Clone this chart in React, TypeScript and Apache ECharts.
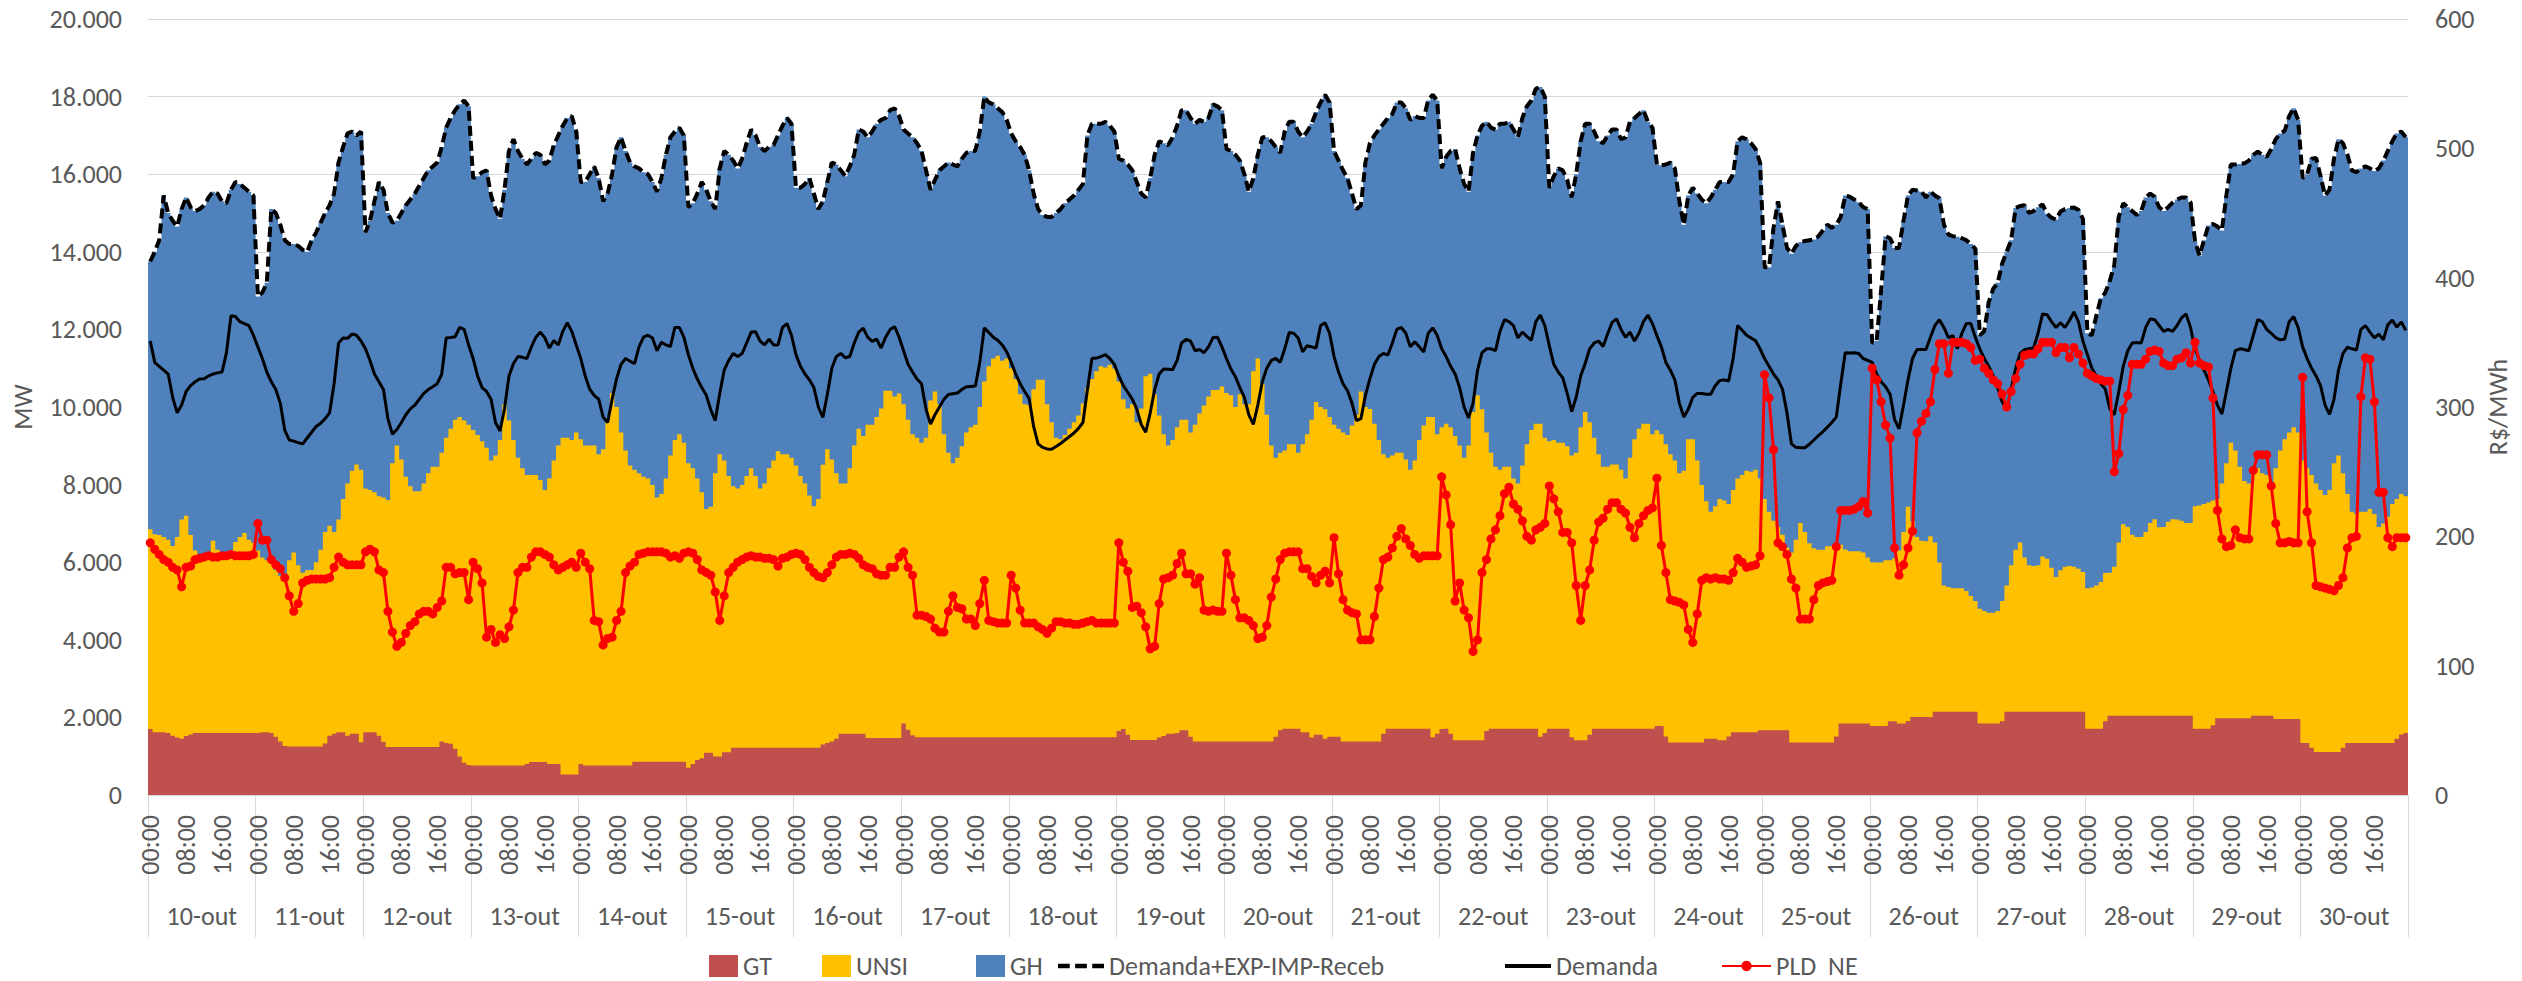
import React, { useEffect, useRef } from "react";
import * as echarts from "echarts";

const days = ["10-out","11-out","12-out","13-out","14-out","15-out","16-out","17-out","18-out","19-out","20-out","21-out","22-out","23-out","24-out","25-out","26-out","27-out","28-out","29-out","30-out"];
const hourLabels = ["00:00","01:00","02:00","03:00","04:00","05:00","06:00","07:00","08:00","09:00","10:00","11:00","12:00","13:00","14:00","15:00","16:00","17:00","18:00","19:00","20:00","21:00","22:00","23:00"];
const mwTicks = [0, 2000, 4000, 6000, 8000, 10000, 12000, 14000, 16000, 18000, 20000];
const pldTicks = [0, 100, 200, 300, 400, 500, 600];

// GT (MW), one row per day, hourly
const GT = [
[1700,1620,1620,1620,1600,1530,1480,1450,1520,1560,1600,1600,1600,1600,1600,1600,1600,1600,1600,1600,1600,1600,1600,1600],
[1600,1620,1620,1600,1500,1380,1260,1250,1250,1250,1250,1250,1250,1250,1250,1330,1530,1580,1620,1620,1530,1580,1580,1360],
[1620,1620,1620,1530,1370,1240,1240,1240,1240,1240,1240,1240,1240,1240,1240,1240,1240,1380,1340,1320,1190,990,830,770],
[760,760,760,760,760,760,760,760,760,760,760,760,800,850,850,850,850,800,800,800,530,530,530,530],
[800,760,760,760,760,760,760,760,760,760,760,760,855,855,855,855,855,855,855,855,855,855,855,855],
[700,800,900,950,1090,1090,990,990,1100,1100,1220,1220,1220,1220,1220,1220,1220,1220,1220,1220,1220,1220,1220,1220],
[1220,1220,1220,1220,1220,1220,1300,1340,1380,1450,1580,1580,1580,1580,1580,1580,1470,1470,1470,1470,1470,1470,1470,1470],
[1840,1680,1540,1490,1490,1490,1490,1490,1490,1490,1490,1490,1490,1490,1490,1490,1490,1490,1490,1490,1490,1490,1490,1490],
[1490,1490,1490,1490,1490,1490,1490,1490,1490,1490,1490,1490,1490,1490,1490,1490,1490,1490,1490,1490,1490,1490,1490,1490],
[1650,1700,1550,1420,1420,1420,1420,1420,1420,1480,1520,1580,1580,1600,1670,1670,1500,1380,1380,1380,1380,1380,1380,1380],
[1380,1380,1380,1380,1380,1380,1380,1380,1380,1380,1380,1500,1670,1710,1710,1710,1710,1620,1620,1480,1550,1550,1450,1500],
[1500,1500,1380,1380,1380,1380,1380,1380,1380,1380,1380,1580,1710,1710,1710,1710,1710,1710,1710,1710,1710,1710,1490,1580],
[1700,1710,1580,1410,1410,1410,1410,1410,1410,1410,1650,1710,1710,1710,1710,1710,1710,1710,1710,1710,1710,1710,1500,1600],
[1710,1710,1710,1710,1710,1490,1410,1410,1410,1550,1710,1710,1710,1710,1710,1710,1710,1710,1710,1710,1710,1710,1710,1710],
[1780,1780,1510,1355,1355,1355,1355,1355,1355,1355,1355,1450,1450,1450,1410,1410,1510,1620,1620,1620,1620,1620,1620,1670],
[1670,1670,1670,1670,1670,1670,1355,1355,1355,1355,1355,1355,1355,1355,1355,1355,1510,1840,1840,1840,1840,1840,1840,1840],
[1780,1780,1780,1780,1900,1900,1840,1840,1910,2010,2010,2010,2010,2010,2145,2145,2145,2145,2145,2145,2145,2145,2145,2145],
[1840,1840,1840,1840,1840,1900,2145,2145,2145,2145,2145,2145,2145,2145,2145,2145,2145,2145,2145,2145,2145,2145,2145,2145],
[1710,1710,1710,1710,1900,2040,2040,2040,2040,2040,2040,2040,2040,2040,2040,2040,2040,2040,2040,2040,2040,2040,2040,2040],
[1710,1710,1710,1710,1800,1980,1980,1980,1980,1980,1980,1980,1980,2040,2040,2040,2040,2040,1960,1960,1960,1960,1960,1960],
[1340,1340,1220,1110,1110,1110,1110,1110,1110,1220,1340,1340,1340,1340,1340,1340,1340,1340,1340,1340,1340,1450,1560,1600]
];

// Top of the UNSI band (GT + UNSI), MW
const UNSI_TOP = [
[6850,6720,6700,6650,6580,6420,6650,7100,7200,6700,6300,6200,6150,6200,6550,6320,6250,6250,6300,6520,6650,6750,6580,6500],
[6300,6120,6050,6000,5800,5650,5600,6050,6250,5920,5730,5790,5800,6000,6320,6780,6940,6780,7100,7630,8030,8360,8520,8380],
[7900,7860,7800,7700,7670,7600,8550,9010,8650,8200,7960,7830,7830,8030,8290,8460,8460,8820,9210,9440,9670,9740,9650,9540],
[9410,9280,9120,8950,8620,8750,9150,10070,9650,9150,8690,8420,8250,8250,8250,8120,7860,8160,8620,9010,9210,9210,9150,9340],
[9170,9010,9010,9010,8780,8910,9670,10360,10000,9340,8880,8490,8380,8290,8200,8160,7990,7670,7760,8160,8750,9150,9300,9080],
[8550,8420,8160,7800,7370,7430,8290,8780,8620,8220,7960,7900,7990,8220,8420,8220,7900,8030,8420,8620,8860,8780,8780,8690],
[8490,8220,8030,7720,7440,7630,8510,8910,8650,8290,8030,8030,8420,9010,9440,9250,9540,9540,9740,9960,10420,10420,10270,10350],
[10070,9670,9300,9210,9080,9210,10170,10400,10070,9300,8820,8550,8690,8990,9340,9480,9540,10000,10660,11050,11250,11320,11190,11250],
[11000,10720,10330,10070,10050,10460,10700,10700,10070,9610,9210,9170,9280,9440,9610,9780,10090,10490,10720,10920,11050,11020,11090,10990],
[10660,10200,9960,10070,9610,9960,10790,10860,10330,9780,9300,9010,9150,9480,9670,9670,9340,9540,9830,10040,10270,10440,10440,10530],
[10360,10300,10000,10330,10070,10070,10920,11250,10590,9800,9010,8690,8820,8880,9040,9040,8820,9040,9300,9670,10130,10000,9940,9740],
[9540,9440,9340,9280,9520,9800,10400,10000,9950,9570,9150,8780,8690,8750,8820,8820,8650,8380,8620,9150,9520,9740,9740,9300],
[9480,9570,9480,9250,9010,8690,9010,9870,10300,9940,9340,8820,8460,8380,8460,8460,8160,8030,8490,9040,9410,9570,9570,9210],
[9120,9150,9080,9080,8990,8750,8820,9480,9870,9610,9210,8780,8460,8460,8520,8520,8380,8160,8690,9170,9440,9570,9570,9300],
[9400,9300,9040,8780,8620,8290,8360,9170,9170,8620,7990,7570,7300,7440,7630,7590,7500,7860,8160,8250,8360,8330,8380,8160],
[7630,7300,7070,6910,6710,6380,6250,6580,7010,6780,6490,6360,6320,6320,6410,6410,6360,6450,6330,6280,6280,6280,6250,6120],
[6000,5990,5990,6050,6050,6100,6300,6780,7430,7050,6650,6550,6540,6670,6510,5990,5400,5360,5330,5330,5330,5260,5130,5000],
[4800,4740,4700,4700,4740,5000,5400,5920,6320,6510,6120,5920,5900,5920,6150,6090,5860,5620,5790,5880,5900,5880,5830,5750],
[5330,5350,5400,5490,5720,5730,5880,6510,6980,6910,6710,6650,6650,6780,7010,7110,6900,6910,7040,7110,7100,7070,7010,7010],
[7440,7460,7500,7540,7590,7630,8030,8550,9080,8880,8460,8090,8030,8360,8420,8290,8250,8030,8420,8880,9170,9340,9480,9340],
[8620,8420,8250,8030,7860,7730,7860,8550,8750,8290,7760,7300,7240,7300,7300,7370,7240,6910,7000,7170,7500,7630,7760,7700]
];

// Demanda+EXP-IMP-Receb (= top of the GH band), MW
const DEM_EXP = [
[13750,14000,14300,15450,15000,14800,14650,15100,15400,15150,15050,15100,15200,15400,15550,15500,15300,15250,15600,15800,15750,15650,15550,15450],
[12850,12950,13200,15100,15000,14700,14300,14200,14200,14150,14050,14000,14300,14500,14750,15000,15200,15500,16300,16700,17050,17100,17000,17100],
[14500,14800,15300,15800,15600,15000,14750,14800,15000,15200,15350,15500,15700,15900,16100,16200,16300,16700,17200,17450,17650,17800,17900,17750],
[15900,15950,16050,16100,15450,15100,14850,15600,16600,16900,16600,16400,16250,16400,16550,16500,16250,16350,16750,17000,17250,17450,17500,17100],
[15800,15800,16000,16200,15900,15300,15500,16000,16700,16950,16600,16300,16200,16150,16050,16000,15800,15550,15900,16500,16950,17100,17200,17000],
[15150,15250,15500,15800,15600,15300,15100,16150,16600,16500,16350,16150,16400,16800,17150,17000,16700,16600,16700,16750,17000,17250,17450,17300],
[15650,15650,15750,15900,15500,15100,15300,15800,16300,16250,16100,15950,16200,16500,17150,17100,16950,17100,17300,17400,17450,17650,17700,17500],
[17150,17050,16950,16800,16600,16100,15600,15850,16100,16200,16300,16250,16200,16400,16550,16600,16600,17100,18000,17850,17800,17700,17600,17400],
[17050,16850,16700,16500,16100,15500,15100,14950,14900,14900,15000,15100,15250,15350,15450,15600,15750,17000,17300,17300,17300,17350,17250,17100],
[16400,16350,16250,16100,15800,15500,15400,15900,16500,16850,16800,16750,16950,17250,17650,17650,17450,17300,17400,17350,17450,17800,17750,17650],
[16650,16600,16500,16350,16000,15550,15900,16500,16950,16950,16850,16700,16550,17100,17350,17350,17100,16950,17100,17300,17600,17850,18050,17850],
[16600,16350,16100,15900,15500,15100,15200,16300,16800,17000,17150,17300,17450,17550,17850,17850,17700,17400,17500,17450,17450,17900,18050,17900],
[16150,16450,16600,16650,16150,15750,15550,16550,17000,17250,17350,17200,17150,17300,17300,17350,17150,16950,17450,17750,17900,18200,18250,18000],
[15650,15950,16150,16100,15850,15400,16000,16850,17300,17300,17100,16850,16800,17000,17150,17150,16900,16950,17350,17450,17550,17650,17350,17200],
[16250,16230,16250,16300,16150,15300,14700,15450,15650,15500,15350,15250,15400,15600,15800,15800,15800,16000,16850,16950,16900,16800,16650,16300],
[13600,13600,14600,15300,14700,14100,13950,14150,14250,14280,14300,14320,14400,14550,14700,14620,14700,14900,15450,15420,15350,15280,15150,15100],
[11650,11700,13000,14400,14350,14100,14100,14800,15450,15600,15580,15550,15400,15550,15450,15380,14700,14450,14400,14390,14350,14300,14200,14080],
[11850,11950,12700,13050,13200,13700,14000,14300,15130,15180,15200,15000,15050,15150,15220,14980,14880,14830,15040,15100,15130,15140,15080,14850],
[11900,11850,12350,12800,12950,13250,13650,14900,15250,15150,15050,14950,15050,15400,15500,15420,15150,15050,15150,15270,15350,15400,15400,15280],
[14280,13900,14300,14680,14720,14650,14550,15450,16250,16250,16260,16280,16350,16500,16580,16500,16450,16650,16900,17050,17120,17500,17700,17400],
[15900,15990,16400,16420,15950,15450,15600,16400,16900,16800,16500,16100,16050,16150,16200,16150,16080,16150,16350,16600,16850,17050,17100,16950]
];

// Demanda, MW
const DEMANDA = [
[11700,11150,11050,10950,10850,10250,9850,10050,10400,10550,10650,10720,10730,10800,10850,10880,10900,11400,12350,12330,12200,12150,12100,11850],
[11550,11250,10900,10650,10450,10100,9400,9150,9120,9080,9050,9200,9350,9500,9580,9700,9850,10600,11650,11780,11770,11880,11850,11700],
[11500,11200,10850,10650,10450,9700,9300,9420,9600,9800,9950,10050,10200,10350,10450,10520,10600,10850,11780,11790,11810,12050,12000,11600],
[11250,10800,10500,10400,10200,9600,9380,9950,10800,11120,11300,11280,11250,11550,11800,11930,11780,11520,11710,11600,11950,12170,11950,11600],
[11250,10800,10460,10300,10200,9740,9600,10200,10730,11100,11250,11180,11120,11550,11800,11850,11780,11450,11670,11600,11560,12050,12050,11800],
[11350,11000,10720,10500,10300,9930,9650,10350,10950,11200,11380,11300,11380,11650,11930,11940,11700,11600,11750,11600,11600,12050,12150,11850],
[11350,11050,10850,10700,10500,10000,9730,10330,11000,11300,11380,11270,11300,11650,11930,12030,11800,11690,11750,11520,11800,12000,12070,11800],
[11450,11100,10900,10720,10600,9950,9560,9800,10000,10200,10320,10340,10360,10450,10520,10530,10540,11150,12040,11920,11800,11720,11600,11420],
[11150,10850,10600,10400,10220,9500,9050,8960,8920,8910,8980,9060,9150,9240,9330,9450,9600,10450,11250,11260,11300,11350,11250,11100],
[10800,10550,10380,10200,9950,9550,9350,9850,10450,10850,10980,10970,10960,11200,11650,11740,11700,11450,11480,11400,11550,11790,11800,11550],
[11250,10980,10780,10500,10250,9800,9550,10050,10650,11000,11200,11250,11150,11500,11920,11900,11780,11420,11580,11550,11520,12100,12170,11900],
[11300,10900,10600,10420,10100,9650,9700,10300,10730,11100,11300,11380,11340,11650,12000,12050,11900,11550,11680,11550,11420,11900,12040,11850],
[11500,11300,11050,10850,10500,10000,9720,10100,10950,11400,11500,11500,11450,11950,12250,12200,12100,11780,11930,11820,11720,12200,12370,12100],
[11580,11100,10900,10750,10350,9880,10250,10800,11120,11500,11650,11700,11560,11880,12180,12270,12000,11800,11930,11700,11900,12200,12370,12150],
[11840,11550,11150,10950,10700,10100,9740,9940,10250,10350,10350,10330,10330,10550,10680,10700,10670,11250,12100,11980,11850,11780,11710,11500],
[11250,11050,10850,10700,10460,9850,9050,8960,8950,8950,9040,9150,9260,9360,9480,9600,9740,10600,11400,11390,11400,11380,11250,11200],
[11150,10850,10650,10520,10330,9680,9440,10050,10700,11250,11480,11480,11480,11800,12100,12250,12050,11790,11840,11500,11900,12150,12150,11800],
[11500,11250,11050,10800,10500,10130,9940,10460,11000,11380,11480,11500,11520,11900,12400,12380,12200,12050,12170,12050,12230,12450,12200,11700],
[11350,11000,10800,10600,10460,9950,9800,10400,11050,11450,11650,11660,11650,12050,12270,12250,12100,11950,12000,11950,12100,12300,12400,12050],
[11500,11200,10950,10700,10400,10050,9820,10400,11000,11450,11500,11480,11450,11850,12250,12200,12000,11900,11790,11730,11750,12200,12330,12050],
[11550,11250,11000,10800,10550,10050,9810,10200,10950,11380,11540,11500,11470,12000,12100,11930,11780,11880,11730,12120,12240,12060,12190,11980]
];

// PLD NE, R$/MWh
const PLD_NE = [
[195,190,186,182,180,176,174,161,176,177,182,183,184,185,184,184,185,185,186,185,185,185,185,186],
[210,197,197,182,178,175,168,154,142,148,164,166,167,167,167,167,168,176,184,180,178,178,178,178],
[188,190,188,174,172,142,126,115,118,125,131,134,140,142,142,140,145,150,176,176,171,172,172,151],
[180,175,164,122,128,118,124,121,130,143,172,176,176,184,188,188,186,184,178,174,176,178,180,176],
[187,180,175,135,134,116,121,122,135,142,172,177,180,186,187,188,188,188,188,187,184,185,183,187],
[188,187,182,174,172,170,157,135,154,172,176,180,182,184,185,184,184,183,183,182,177,183,184,186],
[187,186,182,176,172,169,168,172,178,184,186,186,187,186,183,178,176,175,171,170,170,176,176,184],
[188,176,170,139,139,138,136,129,126,126,142,154,145,144,136,136,131,148,166,135,134,133,133,133],
[170,160,143,133,133,133,130,128,125,129,134,134,133,133,132,132,133,134,135,133,133,133,133,133],
[195,180,173,145,146,141,130,113,115,148,167,168,170,179,187,171,171,163,168,143,142,143,142,142],
[187,170,151,137,137,135,131,121,122,131,153,167,182,187,188,188,188,175,175,169,164,170,173,164],
[199,171,151,143,141,140,120,120,120,138,160,182,184,191,200,206,198,193,186,183,185,185,185,185],
[246,232,209,150,164,143,137,111,120,172,182,198,205,216,233,238,225,221,212,200,197,205,207,210],
[239,229,219,203,203,195,162,135,162,174,197,211,214,221,226,226,221,218,207,199,210,216,220,222],
[245,193,172,151,150,149,147,128,118,140,166,168,167,168,167,167,166,172,183,180,176,177,178,185],
[325,307,267,195,192,186,167,160,136,136,136,151,162,164,165,166,192,220,220,220,221,223,227,218],
[330,321,304,286,276,191,170,178,191,204,280,289,295,304,329,349,349,326,350,350,350,349,346,336],
[337,330,326,321,318,310,300,312,322,333,340,341,341,345,350,350,350,342,346,346,338,346,341,334],
[326,324,322,321,320,320,250,264,298,309,333,333,333,337,343,344,343,334,332,332,337,338,342,334],
[350,334,332,331,307,220,198,192,193,205,199,198,198,251,263,263,263,239,210,195,195,196,195,195],
[323,219,195,162,161,160,159,158,162,168,191,199,200,308,338,337,304,234,234,199,192,199,199,199]
];

const FONT = "Carlito, 'Liberation Sans', Arial, sans-serif";
const TXT = "#595959";
const GRID = "#D9D9D9";
const C_GT = "#C0504D";
const C_UNSI = "#FFC000";
const C_GH = "#4F81BD";

function fmtMW(v: number): string {
  if (v < 1000) return String(v);
  const th = Math.floor(v / 1000);
  const rest = String(v % 1000).padStart(3, "0");
  return th + "." + rest;
}

// Column band drawn as one stepped polygon (Excel stacked columns with 0 gap).
// Each band is filled from the baseline up to its cumulative top; later series overlap earlier ones.
function bandSeries(name: string, values: number[], cumTop: number[], color: string, z: number) {
  return {
    name,
    type: "custom",
    z,
    data: values.map((v, i) => [i, v]),
    encode: { x: 0, y: 1 },
    itemStyle: { color },
    emphasis: { disabled: true },
    renderItem: (params: any, api: any) => {
      if (params.dataIndex !== 0) return null;
      const w = api.size([1, 0])[0];
      const base = api.coord([0, 0])[1];
      const pts: number[][] = [];
      for (let i = 0; i < cumTop.length; i++) {
        const p = api.coord([i, cumTop[i]]);
        pts.push([p[0] - w / 2, p[1]], [p[0] + w / 2, p[1]]);
      }
      const last = api.coord([cumTop.length - 1, 0]);
      const first = api.coord([0, 0]);
      pts.push([last[0] + w / 2, base], [first[0] - w / 2, base]);
      return { type: "polygon", shape: { points: pts }, style: { fill: color } };
    },
  };
}

export default function App() {
  const ref = useRef<HTMLDivElement>(null);
  useEffect(() => {
    if (!ref.current) return;
    const chart = echarts.init(ref.current, undefined, { renderer: "svg" });
    const cats: string[] = [];
    days.forEach((d) => hourLabels.forEach((h) => cats.push(d + " " + h)));
    const gt = GT.flat();
    const top = UNSI_TOP.flat();
    const tot = DEM_EXP.flat();
    const unsi = top.map((v, i) => v - gt[i]);
    const gh = tot.map((v, i) => v - top[i]);
    const dem = DEMANDA.flat();
    const pld = PLD_NE.flat();

    const legendText = { fontSize: 26, color: TXT, fontFamily: FONT };
    const mkLegend = (name: string, left: number, w: number, h: number, icon?: string) => ({
      data: [icon ? { name, icon } : { name }],
      left, top: 953, itemWidth: w, itemHeight: h, itemGap: 0, padding: 0,
      selectedMode: false, textStyle: legendText,
    });

    chart.setOption({
      animation: false,
      backgroundColor: "#ffffff",
      textStyle: { fontFamily: FONT },
      grid: { left: 148, right: 114, top: 19, bottom: 186, containLabel: false },
      xAxis: [
        {
          type: "category", data: cats, position: "bottom", boundaryGap: true,
          axisLine: { show: true, lineStyle: { color: GRID, width: 1 } },
          axisTick: { show: false },
          axisLabel: {
            interval: 7, rotate: 90, margin: 20, fontSize: 26, color: TXT, fontFamily: FONT,
            formatter: (v: string) => v.split(" ")[1],
          },
          splitLine: { show: false },
          z: 5,
        },
        {
          type: "category", data: days, position: "bottom", boundaryGap: true,
          axisLine: { show: false },
          axisTick: { show: true, interval: 0, length: 142, lineStyle: { color: GRID, width: 1 } },
          axisLabel: { interval: 0, margin: 108, fontSize: 26, color: TXT, fontFamily: FONT },
          splitLine: { show: false },
        },
      ],
      yAxis: [
        {
          type: "value", min: mwTicks[0], max: mwTicks[mwTicks.length - 1], interval: mwTicks[1] - mwTicks[0],
          name: "MW", nameLocation: "middle", nameGap: 112, nameRotate: 90,
          nameTextStyle: { fontSize: 26, color: TXT, fontFamily: FONT },
          axisLine: { show: false }, axisTick: { show: false },
          axisLabel: { formatter: (v: number) => fmtMW(v), fontSize: 26, color: TXT, fontFamily: FONT, margin: 26 },
          splitLine: { show: true, lineStyle: { color: GRID, width: 1 } },
        },
        {
          type: "value", position: "right", min: pldTicks[0], max: pldTicks[pldTicks.length - 1], interval: pldTicks[1] - pldTicks[0],
          name: "R$/MWh", nameLocation: "middle", nameGap: 70, nameRotate: 90,
          nameTextStyle: { fontSize: 26, color: TXT, fontFamily: FONT },
          axisLine: { show: false }, axisTick: { show: false },
          axisLabel: { fontSize: 26, color: TXT, fontFamily: FONT, margin: 27 },
          splitLine: { show: false },
        },
      ],
      legend: [
        mkLegend("GT", 709, 29, 22, "rect"),
        mkLegend("UNSI", 822, 29, 22, "rect"),
        mkLegend("GH", 976, 29, 22, "rect"),
        mkLegend("Demanda+EXP-IMP-Receb", 1058, 46, 13, "path://M0,0h11v4h-11z M16,0h11v4h-11z M32,0h11v4h-11z"),
        mkLegend("Demanda", 1505, 46, 13, "path://M0,0h46v4h-46z"),
        mkLegend("PLD  NE", 1721, 49, 13),
      ],
      series: [
        bandSeries("GH", gh, tot, C_GH, 1),
        bandSeries("UNSI", unsi, top, C_UNSI, 2),
        bandSeries("GT", gt, gt, C_GT, 3),
        {
          name: "Demanda+EXP-IMP-Receb", type: "line", data: tot, symbol: "none", z: 4,
          lineStyle: { color: "#000000", width: 4, type: [10, 5] }, itemStyle: { color: "#000000" },
          emphasis: { disabled: true },
        },
        {
          name: "Demanda", type: "line", data: dem, symbol: "none", z: 4,
          lineStyle: { color: "#000000", width: 3 }, itemStyle: { color: "#000000" },
          emphasis: { disabled: true },
        },
        {
          name: "PLD  NE", type: "line", yAxisIndex: 1, data: pld, symbol: "circle", symbolSize: 9, showAllSymbol: true, z: 5,
          lineStyle: { color: "#FF0000", width: 3 }, itemStyle: { color: "#FF0000" },
          emphasis: { disabled: true },
        },
      ],
    });
    return () => chart.dispose();
  }, []);
  return (
    <div
      ref={ref}
      style={{ position: "fixed", left: 0, top: 0, width: 2522, height: 981, background: "#ffffff" }}
    />
  );
}
